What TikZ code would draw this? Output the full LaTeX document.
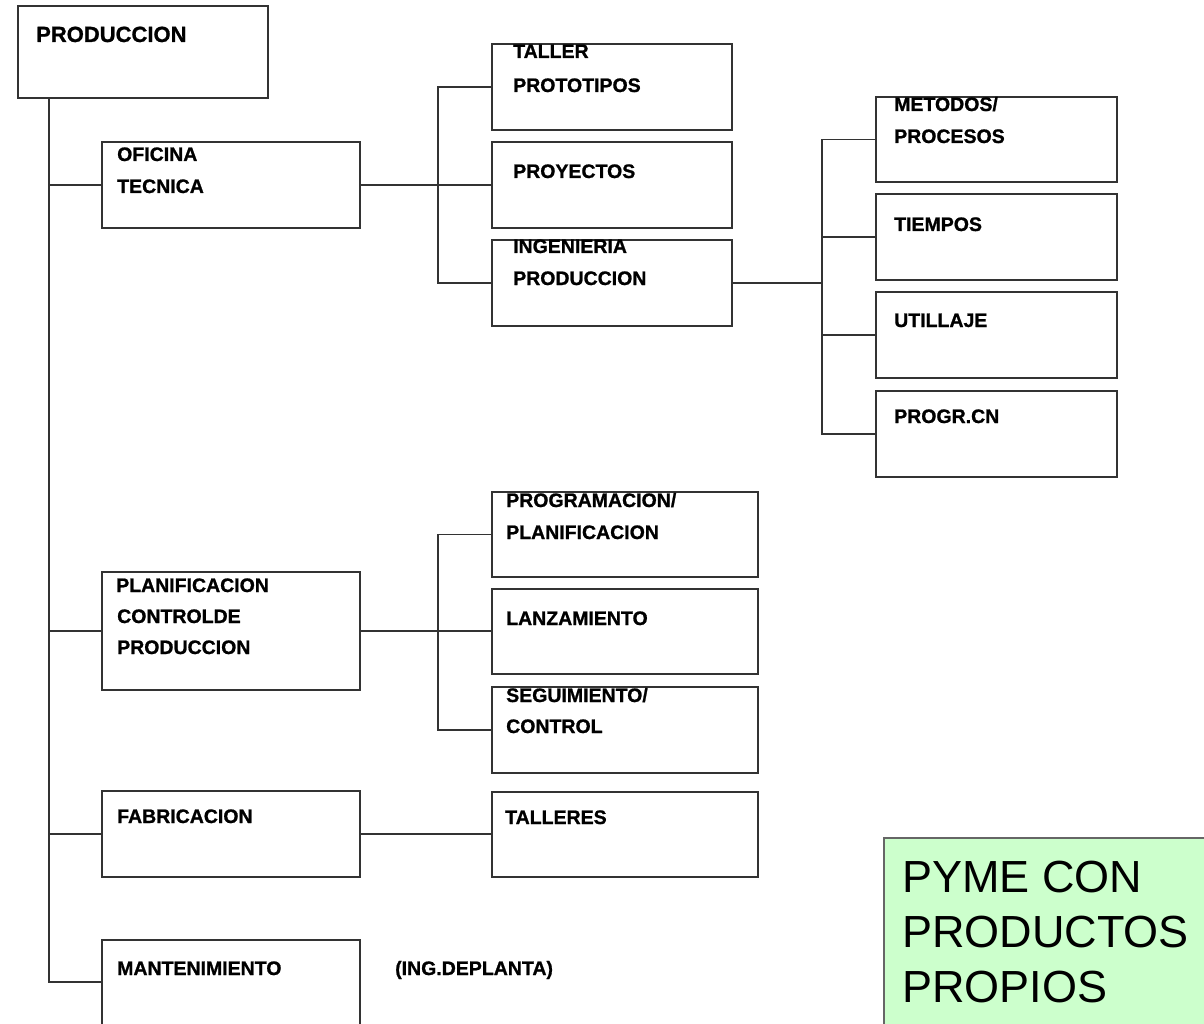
\documentclass[tikz,border=0pt]{standalone}
\usepackage{fontspec}
\setmainfont{Liberation Sans}
\newfontfamily\heavyfont{Liberation Sans Bold}[FakeBold=1]
\begin{document}
\begin{tikzpicture}[x=1pt,y=-1pt,
  box/.style={draw=black!80, line width=1.6pt, rectangle, inner sep=0pt, outer sep=0pt, anchor=north west},
  lbl/.style={anchor=base west, inner sep=0pt, font=\heavyfont\fontsize{19.5}{19.5}\selectfont},
  lbltop/.style={anchor=base west, inner sep=0pt, font=\heavyfont\fontsize{22}{22}\selectfont},
  note/.style={anchor=base west, inner sep=0pt, font=\fontsize{45}{45}\selectfont},
  link/.style={draw=black!80, line width=1.6pt}]
\useasboundingbox (0,0) rectangle (1204,1024);
\clip (0,0) rectangle (1204,1024);

% boxes
\node[box, minimum width=250pt, minimum height=92pt] (prod) at (18,6) {};
\node[box, minimum width=258pt, minimum height=86pt] (ofi) at (102,142) {};
\node[box, minimum width=258pt, minimum height=118pt] (plan) at (102,572) {};
\node[box, minimum width=258pt, minimum height=86pt] (fab) at (102,791) {};
\node[box, minimum width=258pt, minimum height=100pt] (mant) at (102,940) {};
\node[box, minimum width=240pt, minimum height=86pt] (taller) at (492,44) {};
\node[box, minimum width=240pt, minimum height=86pt] (proy) at (492,142) {};
\node[box, minimum width=240pt, minimum height=86pt] (ing) at (492,240) {};
\node[box, minimum width=241pt, minimum height=85pt] (met) at (876,97) {};
\node[box, minimum width=241pt, minimum height=86pt] (tiem) at (876,194) {};
\node[box, minimum width=241pt, minimum height=86pt] (util) at (876,292) {};
\node[box, minimum width=241pt, minimum height=86pt] (progr) at (876,391) {};
\node[box, minimum width=266pt, minimum height=85pt] (prog) at (492,492) {};
\node[box, minimum width=266pt, minimum height=85pt] (lanz) at (492,589) {};
\node[box, minimum width=266pt, minimum height=86pt] (seg) at (492,687) {};
\node[box, minimum width=266pt, minimum height=85pt] (tall) at (492,792) {};
\node[box, draw=black!60, fill={rgb,255:red,204;green,255;blue,204}, minimum width=340pt, minimum height=200pt] (pyme) at (884,838) {};

% bus lines
\coordinate (b0) at (49,0);
\coordinate (b1) at (438,0);
\coordinate (b2) at (822,0);
\coordinate (mantin) at (102,982);

% connectors
\draw[link] (prod.south -| b0) |- (mantin);
\draw[link] (b0 |- ofi.west) -- (ofi.west);
\draw[link] (b0 |- plan.west) -- (plan.west);
\draw[link] (b0 |- fab.west) -- (fab.west);

\draw[link] (ofi.east) -- (ofi.east -| proy.west);
\draw[link] (taller.west) -- (taller.west -| b1) -- (ing.west -| b1) -- (ing.west);

\draw[link] (ing.east) -- (ing.east -| b2);
\draw[link] (met.west) -- (met.west -| b2) -- (progr.west -| b2) -- (progr.west);
\draw[link] (tiem.west -| b2) -- (tiem.west);
\draw[link] (util.west -| b2) -- (util.west);

\draw[link] (plan.east) -- (plan.east -| lanz.west);
\draw[link] (prog.west) -- (prog.west -| b1) -- (seg.west -| b1) -- (seg.west);

\draw[link] (fab.east) -- (fab.east -| tall.west);

% labels
\node[lbltop] (tprod) at (36,42) {PRODUCCION};
\node[lbl] (tofi1) at (117,161) {OFICINA};
\node[lbl] (tofi2) at (117,193) {TECNICA};
\node[lbl] (ttal1) at (513,58) {TALLER};
\node[lbl] (ttal2) at (513,92) {PROTOTIPOS};
\node[lbl] (tproy) at (513,178) {PROYECTOS};
\node[lbl] (ting1) at (513,253) {INGENIERIA};
\node[lbl] (ting2) at (513,285) {PRODUCCION};
\node[lbl] (tmet1) at (894,111) {METODOS/};
\node[lbl] (tmet2) at (894,143) {PROCESOS};
\node[lbl] (ttiem) at (894,231) {TIEMPOS};
\node[lbl] (tutil) at (894,327) {UTILLAJE};
\node[lbl] (tprogr) at (894,423) {PROGR.CN};
\node[lbl] (tplan1) at (116,592) {PLANIFICACION};
\node[lbl] (tplan2) at (117,623) {CONTROLDE};
\node[lbl] (tplan3) at (117,654) {PRODUCCION};
\node[lbl] (tprog1) at (506,507) {PROGRAMACION/};
\node[lbl] (tprog2) at (506,539) {PLANIFICACION};
\node[lbl] (tlanz) at (506,625) {LANZAMIENTO};
\node[lbl] (tseg1) at (506,702) {SEGUIMIENTO/};
\node[lbl] (tseg2) at (506,733) {CONTROL};
\node[lbl] (tfab) at (117,823) {FABRICACION};
\node[lbl] (ttall) at (505,824) {TALLERES};
\node[lbl] (tmant) at (117,975) {MANTENIMIENTO};
\node[lbl] (ting) at (395,975) {(ING.DEPLANTA)};
\node[note] (tpyme1) at (902,892) {PYME CON};
\node[note] (tpyme2) at (902,947) {PRODUCTOS};
\node[note] (tpyme3) at (902,1002) {PROPIOS};
\end{tikzpicture}
\end{document}
